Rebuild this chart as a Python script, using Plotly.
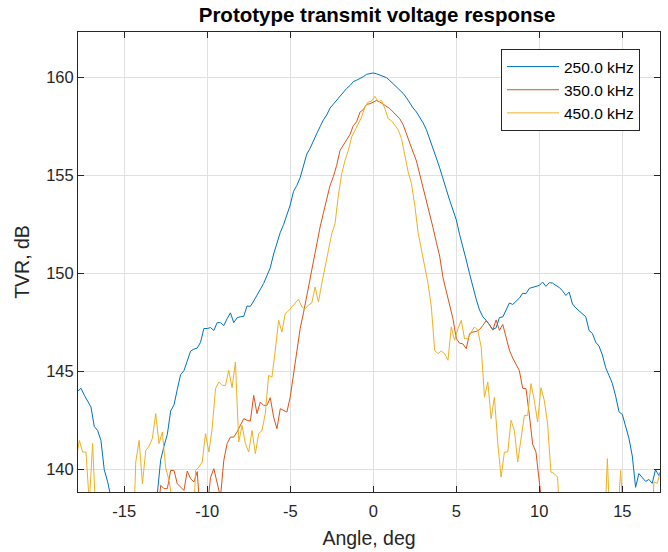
import numpy as np
import plotly.graph_objects as go

# Sample angles (deg): 250/350 kHz sampled on even tenths, 450 kHz on odd tenths
angle_a = np.round(-17.8 + 0.2 * np.arange(177), 1)
angle_b = np.round(-17.9 + 0.2 * np.arange(177), 1)

tvr_250 = [
    144.0, 144.15, 143.8, 143.5, 143.2, 142.2, 142.0, 141.5, 140.0, 139.4,
    138.5, 137.8, 137.3, 136.8, 136.5, 136.2, 136.0, 135.9, 136.0, 136.2,
    136.5, 137.0, 137.3, 137.5, 138.8, 140.5, 141.2, 141.8, 143.0, 143.3,
    144.1, 144.85, 145.05, 145.5, 146.05, 146.15, 146.2, 146.5, 147.2, 147.2,
    147.25, 147.1, 147.5, 147.5, 147.35, 147.7, 148.0, 147.5, 147.75, 147.8,
    147.82, 148.35, 148.33, 148.6, 148.9, 149.2, 149.5, 149.9, 150.3, 151.0,
    151.6, 152.1, 152.5, 153.0, 153.5, 154.2, 154.5, 154.9, 155.5, 156.1,
    156.4, 156.8, 157.15, 157.5, 157.85, 158.1, 158.45, 158.65, 158.85, 159.05,
    159.27, 159.45, 159.6, 159.8, 159.87, 159.95, 160.05, 160.17, 160.2, 160.24,
    160.2, 160.12, 160.07, 160.0, 159.85, 159.69, 159.52, 159.38, 159.2, 158.98,
    158.68, 158.45, 158.25, 158.0, 157.7, 157.35, 156.9, 156.45, 155.9, 155.4,
    154.9, 154.3, 153.75, 153.2, 152.75, 152.0, 151.4, 150.7, 150.0, 149.3,
    148.7, 148.15, 147.8, 147.62, 147.4, 147.15, 147.24, 147.76, 147.79, 148.13,
    148.5, 148.43, 148.6, 148.75, 149.0, 148.98, 149.25, 149.3, 149.35, 149.4,
    149.57, 149.35, 149.54, 149.52, 149.4, 149.3, 149.12, 148.89, 149.06, 148.45,
    148.25, 148.1, 147.96, 147.8, 147.1, 146.95, 146.5, 146.3, 145.85, 145.2,
    144.8, 144.4, 143.75, 142.95, 142.82, 142.2, 141.6, 140.7, 139.1, 139.8,
    139.6, 139.4, 139.5, 139.3, 140.0, 139.7, 140.1,
]

tvr_350 = [
    136.5, 136.2, 136.8, 136.0, 136.4, 135.9, 136.6, 136.1, 135.8, 136.3,
    136.0, 136.5, 135.7, 136.2, 136.0, 136.6, 135.9, 136.3, 136.1, 136.4,
    136.0, 136.5, 136.2, 136.8, 137.5, 139.2, 139.03, 139.03, 139.96, 139.96,
    139.28, 139.11, 138.94, 139.93, 139.54, 139.37, 139.9, 137.5, 137.0, 138.0,
    139.6, 140.05, 139.4, 138.6, 140.47, 141.33, 141.66, 141.66, 141.92, 142.26,
    142.6, 142.52, 142.48, 143.79, 142.86, 143.45, 143.28, 143.28, 143.67, 142.68,
    142.09, 143.11, 143.03, 142.94, 143.7, 144.9, 146.1, 147.2, 148.0, 148.9,
    149.7, 150.6, 151.5, 152.38, 153.1, 153.8, 154.5, 154.95, 155.53, 156.29,
    156.55, 156.85, 157.1, 157.55, 157.75, 158.24, 158.37, 158.64, 158.67, 158.75,
    158.84, 158.76, 158.65, 158.55, 158.42, 158.25, 158.08, 157.9, 157.6, 157.1,
    156.63, 156.2, 155.75, 155.1, 154.45, 153.8, 153.1, 152.35, 151.6, 150.9,
    149.8, 149.1, 148.4, 147.7, 146.7, 146.45, 146.42, 146.17, 146.94, 147.02,
    147.05, 147.15, 147.36, 147.6, 147.4, 147.12, 147.64, 147.11, 147.41, 146.75,
    146.1, 145.7, 145.4, 145.05, 144.15, 144.13, 142.8, 141.3, 140.9, 139.3,
    137.5, 136.4, 135.9, 136.3, 136.0, 136.5, 135.8, 136.2, 136.0, 136.4,
    136.1, 135.8, 136.3, 136.0, 136.5, 135.9, 136.2, 136.4, 135.8, 136.1,
    136.3, 136.0, 135.7, 136.4, 136.1, 135.9, 136.2, 136.5, 135.8, 136.0,
    136.3, 135.9, 136.1, 136.4, 136.0, 135.8, 136.2,
]

tvr_450 = [
    140.5, 141.49, 140.9, 140.9, 138.3, 141.33, 137.5, 136.8, 136.2, 136.5,
    135.8, 136.3, 136.0, 136.6, 135.9, 136.4, 135.7, 135.3, 140.4, 141.49,
    139.28, 140.98, 141.2, 141.6, 142.86, 141.33, 141.92, 140.1, 139.45, 138.4,
    136.2, 135.8, 136.4, 136.0, 136.5, 135.5, 139.96, 140.13, 140.39, 141.84,
    140.9, 142.1, 144.13, 144.47, 144.3, 144.3, 145.07, 144.18, 145.49, 141.41,
    142.26, 141.33, 140.9, 142.0, 140.82, 141.84, 142.0, 142.86, 144.81, 144.72,
    146.09, 147.62, 147.02, 147.96, 148.1, 148.3, 148.55, 148.7, 148.3, 148.21,
    148.4, 148.5, 149.32, 148.55, 149.49, 150.4, 151.19, 152.04, 152.55, 154.0,
    155.1, 155.78, 156.29, 156.97, 157.31, 157.65, 157.99, 158.5, 158.76, 158.8,
    159.05, 158.76, 158.84, 158.42, 157.91, 157.8, 157.6, 157.35, 156.9, 156.0,
    155.2, 154.6, 153.5, 152.1, 151.2, 150.5, 149.5, 148.3, 146.09, 145.92,
    146.05, 145.92, 145.58, 147.28, 146.6, 147.19, 147.62, 146.68, 146.68, 147.02,
    147.28, 147.11, 146.26, 143.7, 144.47, 142.6, 143.7, 141.33, 139.62, 140.9,
    140.9, 142.52, 142.0, 140.39, 141.66, 142.77, 142.77, 144.39, 143.54, 142.43,
    144.18, 143.54, 142.35, 139.88, 139.8, 139.62, 136.5, 135.9, 136.3, 135.6,
    136.1, 135.8, 136.4, 135.7, 136.2, 135.9, 136.5, 135.8, 136.1, 136.3,
    140.56, 136.2, 135.9, 137.2, 139.96, 137.0, 136.0, 135.7, 136.3, 135.9,
    136.4, 135.8, 136.1, 134.5, 139.37, 139.3, 139.9,
]

series_names = ["250.0 kHz", "350.0 kHz", "450.0 kHz"]
series_colors = ["#0072BD", "#D95319", "#EDB120"]

x_tick_vals = [-15, -10, -5, 0, 5, 10, 15]
x_tick_text = ["-15", "-10", "-5", "0", "5", "10", "15"]
y_tick_vals = [140, 145, 150, 155, 160]
y_tick_text = ["140", "145", "150", "155", "160"]

FONT = "Liberation Sans, Arial, Helvetica, sans-serif"
AX = "#262626"

fig = go.Figure()
for xs, ys, name, col in zip([angle_a, angle_a, angle_b],
                             [tvr_250, tvr_350, tvr_450],
                             series_names, series_colors):
    fig.add_trace(go.Scatter(x=xs, y=ys, mode="lines", name=name,
                             line=dict(color=col, width=1)))

axis_common = dict(
    showline=True, linecolor=AX, linewidth=1, mirror="ticks",
    ticks="inside", ticklen=6, tickwidth=1, tickcolor=AX,
    showgrid=True, gridcolor="#e0e0e0", gridwidth=1, zeroline=False,
    tickfont=dict(family=FONT, size=16.5, color=AX),
)

fig.update_layout(
    width=668, height=552,
    margin=dict(l=78, r=8, t=32, b=60),
    paper_bgcolor="white", plot_bgcolor="white",
    title=dict(text="<b>Prototype transmit voltage response</b>",
               x=(377 - 78) / 582, xref="paper", xanchor="center",
               y=1 - 15 / 552, yanchor="middle",
               font=dict(family=FONT, size=20.5, color="black")),
    xaxis=dict(range=[-17.78, 17.27], tickvals=x_tick_vals, ticktext=x_tick_text,
               ticklabelstandoff=4,
               title=dict(text="Angle, deg", standoff=12,
                          font=dict(family=FONT, size=19.5, color=AX)),
               **axis_common),
    yaxis=dict(range=[138.86, 162.33], tickvals=y_tick_vals, ticktext=y_tick_text,
               title=dict(text="TVR, dB", standoff=11,
                          font=dict(family=FONT, size=19.5, color=AX)),
               **axis_common),
    legend=dict(x=(501 - 78) / 582, y=(492 - 49) / 460, xanchor="left", yanchor="top",
                bgcolor="white", bordercolor=AX, borderwidth=1,
                font=dict(family=FONT, size=15.5, color="black"),
                itemwidth=52, tracegroupgap=0),
    showlegend=True,
)

fig.write_html(
    "out.html",
    config={"displayModeBar": False},
    post_script="document.body.style.margin='0';document.body.style.padding='0';",
)
